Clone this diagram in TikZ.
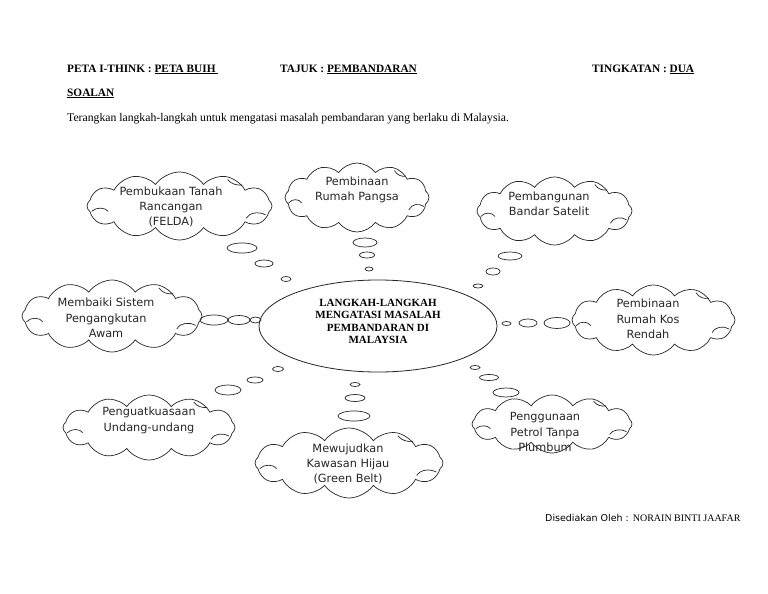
\documentclass[tikz,border=0pt]{standalone}
\usepackage{fontspec}
\setmainfont{Liberation Serif}
\newfontfamily\cloudfont{DejaVu Sans}
\usetikzlibrary{shapes.symbols,shapes.geometric}
\tikzset{
  idea/.style args={#1/#2}{cloud, cloud puffs=12, cloud puff arc=110, cloud ignores aspect,
     draw=black!85, line width=0.7pt, inner sep=0pt, minimum width=#1pt, minimum height=#2pt},
  ideatext/.style={align=center, text=black!85, inner sep=0pt,
     font=\cloudfont\fontsize{11.3}{15.3}\selectfont},
  innerarc/.style={draw=black!85, line width=0.7pt},
  bub/.style args={#1/#2}{ellipse, draw=black!85, line width=0.7pt, inner sep=0pt,
     minimum width=#1pt, minimum height=#2pt},
  hdr/.style={anchor=base west, inner sep=0pt, font=\bfseries\fontsize{11.3}{13}\selectfont},
  hub/.style={ellipse, draw=black!85, line width=0.8pt, inner sep=0pt, minimum width=238pt, minimum height=92pt},
  hubtext/.style={align=center, inner sep=0pt, font=\bfseries\fontsize{11}{12.4}\selectfont}
}
\begin{document}
\begin{tikzpicture}[x=1pt,y=-1pt]
\useasboundingbox[fill=white] (0,0) rectangle (768,594);

% header
\node[hdr] (h1) at (67,72) {PETA I-THINK : \underline{PETA BUIH\ }};
\node[hdr] (h2) at (280,72) {TAJUK : \underline{PEMBANDARAN}};
\node[hdr] (h3) at (592,72) {TINGKATAN : \underline{DUA}};
\node[hdr] (h4) at (67,96) {\underline{SOALAN}};
\node[anchor=base west, inner sep=0pt, font=\fontsize{11.7}{13}\selectfont] (q) at (67,121)
  {Terangkan langkah-langkah untuk mengatasi masalah pembandaran yang berlaku di Malaysia.};

% centre
\node[hub] (hub) at (378,326) {};
\node[hubtext] (hubt) at (378,321.5) {LANGKAH-LANGKAH\\MENGATASI MASALAH\\PEMBANDARAN DI\\MALAYSIA};

% clouds
\node[idea=185/68] (c1) at (179.5,206) {};
\node[idea=144/69] (c2) at (357,197.5) {};
\node[idea=155/68] (c3) at (554.5,211) {};
\node[idea=180/72] (c4) at (112,316) {};
\node[idea=163/70] (c5) at (653.5,320) {};
\node[idea=172/65] (c6) at (149,427.5) {};
\node[idea=188/70] (c7) at (349,463) {};
\node[idea=160/58] (c8) at (552,424) {};

% inner arcs of the clouds
\foreach \cx/\cy/\w/\h in {179.5/206/185/68, 357/197.5/144/69, 554.5/211/155/68, 112/316/180/72,
    653.5/320/163/70, 149/427.5/172/65, 349/463/188/70, 552/424/160/58}{
  \draw[innerarc] ({\cx-0.95*\w/2},{\cy+0.16*\h/2}) .. controls ({\cx-0.9*\w/2},{\cy+0.02*\h/2})
      and ({\cx-0.8*\w/2},{\cy+0.04*\h/2}) .. ({\cx-0.77*\w/2},{\cy+0.16*\h/2});
  \draw[innerarc] ({\cx+0.72*\w/2},{\cy+0.36*\h/2}) .. controls ({\cx+0.76*\w/2},{\cy+0.18*\h/2})
      and ({\cx+0.86*\w/2},{\cy+0.16*\h/2}) .. ({\cx+0.93*\w/2},{\cy+0.26*\h/2});
  \draw[innerarc] ({\cx+0.52*\w/2},{\cy-0.78*\h/2}) .. controls ({\cx+0.56*\w/2},{\cy-0.64*\h/2})
      and ({\cx+0.62*\w/2},{\cy-0.6*\h/2}) .. ({\cx+0.68*\w/2},{\cy-0.62*\h/2});
}

% cloud texts
\node[ideatext] (t1) at (171,207) {Pembukaan Tanah\\Rancangan\\(FELDA)};
\node[ideatext] (t2) at (357,190) {Pembinaan\\Rumah Pangsa};
\node[ideatext] (t3) at (549,203.5) {Pembangunan\\Bandar Satelit};
\node[ideatext] (t4) at (106,318) {Membaiki Sistem\\Pengangkutan\\Awam};
\node[ideatext] (t5) at (648,319) {Pembinaan\\Rumah Kos\\Rendah};
\node[ideatext] (t6) at (149,420.5) {Penguatkuasaan\\Undang-undang};
\node[ideatext] (t7) at (348,464) {Mewujudkan\\Kawasan Hijau\\(Green Belt)};
\node[ideatext] (t8) at (545,432) {Penggunaan\\Petrol Tanpa\\Plumbum};

% thought bubbles
\node[bub=30/10] (b11) at (242,248) {};
\node[bub=18/7] (b12) at (264,263.5) {};
\node[bub=10/5] (b13) at (286,279) {};
\node[bub=24/9] (b21) at (365,242.5) {};
\node[bub=15/6] (b22) at (367,255) {};
\node[bub=8/4] (b23) at (369,269) {};
\node[bub=24/8] (b31) at (510,256) {};
\node[bub=14/7] (b32) at (493,271.5) {};
\node[bub=10/4] (b33) at (478,286) {};
\node[bub=28/10] (b41) at (214,320) {};
\node[bub=22/9] (b42) at (239,320) {};
\node[bub=11/6] (b43) at (255.5,320) {};
\node[bub=9/4] (b51) at (506.5,323.5) {};
\node[bub=18/8] (b52) at (528,323) {};
\node[bub=26/11] (b53) at (557,323) {};
\node[bub=26/10] (b61) at (228,390) {};
\node[bub=16/6] (b62) at (255,380) {};
\node[bub=11/5] (b63) at (278,369) {};
\node[bub=10/4] (b71) at (355,384.5) {};
\node[bub=20/7] (b72) at (355,398) {};
\node[bub=32/10] (b73) at (354,416) {};
\node[bub=10/4] (b81) at (475,367.5) {};
\node[bub=19/6] (b82) at (489,377.5) {};
\node[bub=26/9] (b83) at (506,392.5) {};

% footer
\node[anchor=base west, inner sep=0pt] (f) at (545,521)
  {{\cloudfont\fontsize{9.5}{10}\selectfont Disediakan Oleh : }{\fontsize{10}{11}\selectfont NORAIN BINTI JAAFAR}};
\end{tikzpicture}
\end{document}
